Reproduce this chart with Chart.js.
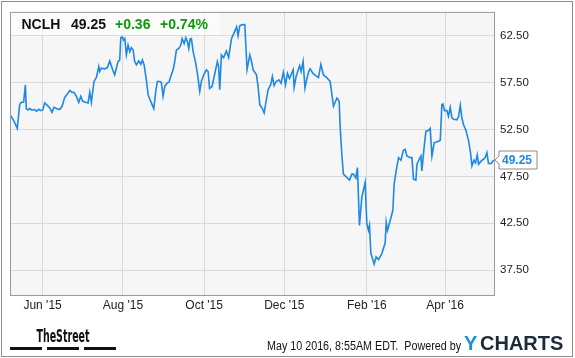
<!DOCTYPE html>
<html>
<head>
<meta charset="utf-8">
<script src="https://cdn.jsdelivr.net/npm/chart.js@4.4.0/dist/chart.umd.min.js"></script>
<style>
  html, body { margin: 0; padding: 0; background: #fff; }
  canvas { display: block; }
</style>
</head>
<body>
<canvas id="myCanvas" width="575" height="358"></canvas>
<script>
// quote header
var symbol = "NCLH";
var lastPrice = 49.25;
var change = "+0.36";
var changePct = "+0.74%";
var stamp = "May 10 2016, 8:55AM EDT.  Powered by";

// x = days since the start of the window (~May 7 2015)
var days = [
  0.5, 3.0, 5.5, 7.3, 8.5, 10.3, 11.6, 12.3, 13.6, 14.9,
  16.6, 18.6, 19.9, 21.7, 23.2, 24.7, 26.2, 28.2, 30.0, 31.7,
  33.2, 35.0, 37.5, 39.3, 41.3, 43.3, 45.1, 46.8, 48.3, 50.1,
  51.9, 53.4, 54.9, 56.9, 58.9, 60.2, 61.4, 63.4, 65.2, 67.0,
  67.7, 68.9, 71.5, 73.5, 75.3, 77.4, 79.0, 81.5, 82.8, 83.6,
  84.6, 85.8, 86.6, 87.8, 89.1, 90.4, 91.6, 92.9, 94.1, 95.4,
  97.2, 98.7, 99.9, 101.2, 102.9, 104.2, 106.2, 108.5, 110.0, 111.2,
  113.0, 114.2, 115.5, 116.8, 118.5, 120.0, 121.3, 123.1, 124.3, 125.6,
  127.4, 128.9, 129.9, 131.4, 132.7, 133.9, 134.9, 135.9, 136.9, 138.2,
  139.9, 141.4, 143.2, 144.4, 146.2, 148.2, 149.5, 150.6, 152.5, 154.4,
  156.5, 157.4, 158.3, 159.5, 161.2, 163.3, 165.0, 166.1, 167.2, 169.1,
  171.0, 172.1, 173.4, 174.8, 177.2, 178.9, 181.0, 182.3, 183.5, 186.0,
  187.2, 188.5, 190.3, 191.8, 193.5, 194.8, 196.8, 198.0, 199.3, 200.8,
  202.9, 204.6, 206.3, 207.9, 209.4, 210.9, 212.2, 213.7, 214.4, 215.9,
  218.6, 219.7, 221.2, 222.6, 223.9, 225.4, 226.5, 228.8, 232.8, 234.6,
  236.5, 239.0, 241.6, 242.9, 244.1, 246.7, 248.4, 249.2, 250.4, 251.6,
  254.2, 256.2, 258.0, 259.2, 261.0, 262.2, 263.7, 265.5, 268.0, 269.3,
  270.5, 271.3, 272.3, 274.8, 276.3, 278.1, 280.6, 283.1, 283.9, 284.9,
  286.9, 288.9, 289.9, 291.4, 293.2, 295.0, 296.9, 298.2, 299.5, 302.0,
  303.3, 304.5, 306.3, 307.1, 308.8, 310.1, 310.8, 312.8, 313.9, 315.8,
  317.1, 318.4, 320.1, 322.4, 324.7, 325.9, 326.7, 327.9, 329.7, 330.9,
  332.2, 333.5, 334.8, 337.3, 338.6, 339.8, 341.0, 342.2, 344.1, 346.0,
  347.5, 348.6, 350.1, 351.3, 352.6, 353.6, 355.6, 357.3, 358.6, 359.9,
  361.1, 363.2, 364.9
];

var prices = [
  53.99, 53.39, 52.62, 55.16, 55.40, 55.43, 57.28, 54.74, 54.59, 54.74,
  54.56, 54.63, 54.45, 54.66, 54.52, 54.59, 55.33, 55.08, 54.80, 54.34,
  54.87, 54.74, 54.63, 54.98, 55.93, 56.28, 56.67, 56.46, 56.46, 56.04,
  55.40, 56.04, 55.51, 55.40, 55.33, 56.49, 55.40, 57.63, 58.05, 59.22,
  58.69, 59.04, 58.97, 59.11, 59.82, 58.90, 58.34, 59.75, 59.93, 62.29,
  62.39, 62.04, 62.21, 60.46, 61.51, 60.81, 61.23, 60.99, 59.75, 59.40,
  59.82, 59.46, 59.93, 59.40, 57.81, 56.22, 55.51, 54.74, 56.57, 57.63,
  57.63, 57.55, 56.04, 57.10, 57.45, 57.55, 58.16, 58.87, 59.75, 60.99,
  61.15, 61.51, 62.21, 61.68, 62.29, 61.86, 61.15, 62.15, 62.21, 60.81,
  59.75, 58.51, 56.57, 57.63, 58.34, 58.87, 58.69, 56.89, 57.10, 58.37,
  59.75, 59.22, 56.75, 60.46, 60.17, 60.88, 60.17, 61.23, 62.21, 62.82,
  63.45, 62.50, 63.56, 63.67, 63.70, 58.90, 60.46, 59.75, 58.87, 58.34,
  57.10, 55.16, 54.77, 54.27, 55.72, 56.75, 57.31, 58.16, 57.20, 57.63,
  57.81, 57.45, 58.61, 57.28, 58.51, 57.94, 58.37, 58.87, 56.99, 58.16,
  59.32, 58.69, 59.75, 56.92, 57.84, 58.69, 58.97, 58.47, 58.05, 59.46,
  58.34, 58.05, 57.63, 56.25, 54.98, 55.86, 55.51, 52.68, 49.86, 47.74,
  47.38, 47.11, 47.74, 47.74, 47.32, 48.44, 42.27, 45.26, 46.85, 42.45,
  41.74, 42.27, 39.33, 38.14, 38.91, 38.63, 39.27, 40.39, 42.62, 41.74,
  42.80, 43.86, 46.68, 48.09, 49.50, 49.23, 50.29, 50.39, 49.68, 49.50,
  49.50, 47.21, 47.11, 48.80, 49.33, 49.68, 48.09, 50.99, 52.33, 52.40,
  52.62, 49.68, 51.09, 51.20, 51.35, 55.16, 55.22, 54.52, 54.52, 53.92,
  54.87, 53.74, 53.60, 53.53, 53.92, 55.08, 53.74, 53.04, 52.40, 51.35,
  50.03, 48.62, 49.23, 48.94, 49.79, 48.80, 49.15, 49.33, 49.50, 50.03,
  48.87, 48.87, 49.25
];

var tickDays = [24.6, 85.2, 146.5, 207.0, 269.2, 328.3];
var tickLabels = ["Jun '15", "Aug '15", "Oct '15", "Dec '15", "Feb '16", "Apr '16"];
var priceTicks = [37.5, 42.5, 47.5, 52.5, 57.5, 62.5];

var FONT = '"Liberation Sans", Arial, sans-serif';
var BLUE = "#1e88e5";

var points = [];
for (var i in days) {
    points.push({x: days[i], y: prices[i]});
}

// background, header box, borders, labels and footer
var decor = {
    id: "decor",
    beforeDraw: function(chart) {
        var c = chart.ctx, a = chart.chartArea;
        c.save();
        c.fillStyle = "#fff";
        c.fillRect(0, 0, chart.width, chart.height);
        c.fillStyle = "#f6f6f6";
        c.fillRect(a.left, a.top, a.right - a.left, a.bottom - a.top);
        c.restore();
    },
    beforeDatasetsDraw: function(chart) {
        var c = chart.ctx, a = chart.chartArea;
        c.save();
        c.fillStyle = "rgba(255,255,255,0.6)";
        c.fillRect(a.left, a.top, 210, 23);
        c.restore();
    },
    afterDraw: function(chart) {
        var c = chart.ctx, a = chart.chartArea;
        c.save();

        // plot frame
        c.strokeStyle = "#9a9a9a";
        c.lineWidth = 1;
        c.strokeRect(a.left + 0.5, a.top + 0.5, a.right - a.left - 1, a.bottom - a.top);

        // header
        c.textBaseline = "alphabetic";
        c.textAlign = "left";
        c.font = "bold 14px " + FONT;
        c.fillStyle = "#111";
        c.fillText(symbol, 21.5, 28.5);
        c.fillText(lastPrice.toFixed(2), 71, 28.5);
        c.fillStyle = "#0a9a0a";
        c.fillText(change, 115, 28.5);
        c.fillText(changePct, 160, 28.5);

        // last value flag
        var cy = chart.scales.y.getPixelForValue(lastPrice);
        var bx = 499, bw = 38, bh = 18;
        c.beginPath();
        c.moveTo(bx, cy - bh / 2);
        c.lineTo(bx + bw, cy - bh / 2);
        c.lineTo(bx + bw, cy + bh / 2);
        c.lineTo(bx, cy + bh / 2);
        c.lineTo(bx, cy + 4);
        c.lineTo(bx - 4, cy);
        c.lineTo(bx, cy - 4);
        c.closePath();
        c.fillStyle = "#fff";
        c.fill();
        c.strokeStyle = "#8a8a8a";
        c.stroke();
        c.font = "bold 12px " + FONT;
        c.fillStyle = BLUE;
        c.textBaseline = "middle";
        c.fillText(lastPrice.toFixed(2), bx + 3, cy + 1);

        // footer: TheStreet
        c.textBaseline = "alphabetic";
        c.fillStyle = "#111";
        c.font = 'bold 17px "Liberation Sans Narrow", "DejaVu Sans Condensed", sans-serif';
        c.fillText("TheStreet", 36.5, 342, 53);
        c.fillRect(10, 347, 32, 3);
        c.fillRect(47, 347, 32, 3);
        c.fillRect(84, 347, 32, 3);

        // footer: timestamp + logo
        c.font = "12px " + FONT;
        c.fillStyle = "#111";
        c.fillText(stamp, 267, 350, 194);
        c.font = "bold 20px " + FONT;
        c.fillStyle = "#1a8fe3";
        c.fillText("Y", 464, 349.5, 14);
        c.fillStyle = "#1c2a39";
        c.fillText("CHARTS", 480, 349.5, 86);

        // outer frame
        c.strokeStyle = "#8c8c8c";
        c.strokeRect(1.5, 1.5, 571, 355);
        c.restore();
    }
};

var ctx = document.getElementById("myCanvas");

var LineGraph = new Chart(ctx, {
    type: "line",
    data: {
        datasets: [{
            label: symbol,
            data: points,
            borderColor: BLUE,
            borderWidth: 1.6,
            pointRadius: 0,
            fill: false,
            tension: 0
        }]
    },
    options: {
        responsive: false,
        animation: false,
        devicePixelRatio: 1,
        layout: { padding: { left: 10, top: 10, right: 0, bottom: 0 } },
        plugins: {
            legend: { display: false },
            tooltip: { enabled: false }
        },
        scales: {
            x: {
                type: "linear",
                min: 0,
                max: 366,
                afterBuildTicks: function(scale) {
                    scale.ticks = tickDays.map(function(d) { return {value: d}; });
                },
                afterFit: function(scale) { scale.height = 63; },
                grid: { color: "#dadada", drawTicks: false },
                border: { display: false },
                ticks: {
                    autoSkip: false,
                    maxRotation: 0,
                    padding: 3,
                    color: "#222",
                    font: { family: FONT, size: 12 },
                    callback: function(v, idx) { return tickLabels[idx]; }
                }
            },
            y: {
                position: "right",
                min: 34.85,
                max: 65.05,
                afterBuildTicks: function(scale) {
                    scale.ticks = priceTicks.map(function(p) { return {value: p}; });
                },
                afterFit: function(scale) { scale.width = 80; },
                grid: { color: "#dadada", drawTicks: false },
                border: { display: false },
                ticks: {
                    padding: 5,
                    color: "#222",
                    font: { family: FONT, size: 11.5 },
                    callback: function(v) { return Number(v).toFixed(2); }
                }
            }
        }
    },
    plugins: [decor]
});
</script>
</body>
</html>
